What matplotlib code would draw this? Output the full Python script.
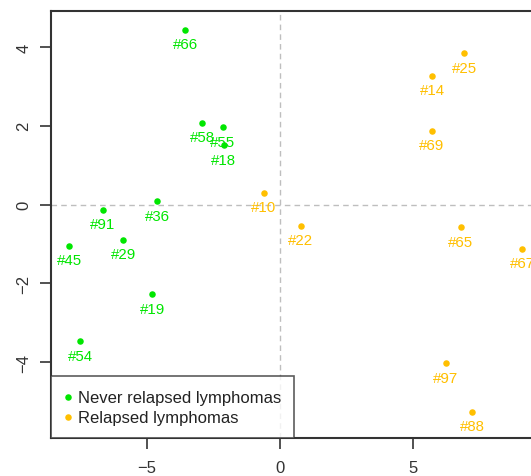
import numpy as np
import matplotlib
matplotlib.use("Agg")
import matplotlib.pyplot as plt

# never relapsed (green)
never_ids = ["#66", "#58", "#55", "#18", "#36", "#91", "#29", "#45", "#19", "#54"]
never_x = [-3.56, -2.93, -2.15, -2.11, -4.62, -6.67, -5.89, -7.92, -4.80, -7.51]
never_y = [4.44, 2.08, 1.96, 1.50, 0.08, -0.13, -0.89, -1.05, -2.28, -3.47]

# relapsed (orange)
relapsed_ids = ["#10", "#25", "#14", "#69", "#22", "#65", "#67", "#97", "#88"]
relapsed_x = [-0.60, 6.94, 5.74, 5.71, 0.79, 6.80, 9.12, 6.25, 7.24]
relapsed_y = [0.30, 3.84, 3.27, 1.88, -0.53, -0.58, -1.12, -4.03, -5.25]

green = "#00E600"
orange = "#FFBF00"

fig = plt.figure(figsize=(5.31, 4.77), dpi=100)
ax = fig.add_axes([0.096, 0.0797, 0.9115, 0.895])

ax.axhline(0, color="#BEBEBE", linestyle=(0, (4, 3)), linewidth=1, zorder=0)
ax.axvline(0, color="#BEBEBE", linestyle=(0, (4, 3)), linewidth=1, zorder=0)

ax.scatter(never_x, never_y, s=22, color=green, linewidths=0,
           label="Never relapsed lymphomas", zorder=3)
ax.scatter(relapsed_x, relapsed_y, s=22, color=orange, linewidths=0,
           label="Relapsed lymphomas", zorder=3)

for ids, xs, ys, c in [(never_ids, never_x, never_y, green),
                       (relapsed_ids, relapsed_x, relapsed_y, orange)]:
    for lab, x, y in zip(ids, xs, ys):
        ax.annotate(lab, (x, y), xytext=(0, -10.3), textcoords="offset points",
                    ha="center", va="center", color=c, fontsize=10.8,
                    family="Liberation Sans")

ax.set_xlim(-8.61, 9.6)
ax.set_ylim(-5.92, 4.91)
ax.set_xticks([-5, 0, 5])
ax.set_yticks([-4, -2, 0, 2, 4])
ax.set_xticklabels(["\u22125", "0", "5"])
ax.set_yticklabels(["\u22124", "\u22122", "0", "2", "4"], rotation=90, va="center")
ax.tick_params(length=8, width=1.2, color="#333333", labelsize=12,
               labelcolor="#333333", pad=6)
ax.tick_params(axis="x", pad=8)
for lbl in ax.get_xticklabels() + ax.get_yticklabels():
    lbl.set_family("Liberation Sans")
for sp in ax.spines.values():
    sp.set_linewidth(1.5)
    sp.set_color("#333333")

leg = ax.legend(loc="lower left", borderaxespad=0, frameon=True, fancybox=False,
                prop={"family": "Liberation Sans", "size": 12},
                handletextpad=0.3, handlelength=0.5, borderpad=0.8,
                labelspacing=0.3, scatterpoints=1, markerscale=1.0)
leg.get_frame().set_edgecolor("#333333")
leg.get_frame().set_linewidth(1.2)
for t in leg.get_texts():
    t.set_color("#222222")

fig.savefig("out.png", dpi=100)
